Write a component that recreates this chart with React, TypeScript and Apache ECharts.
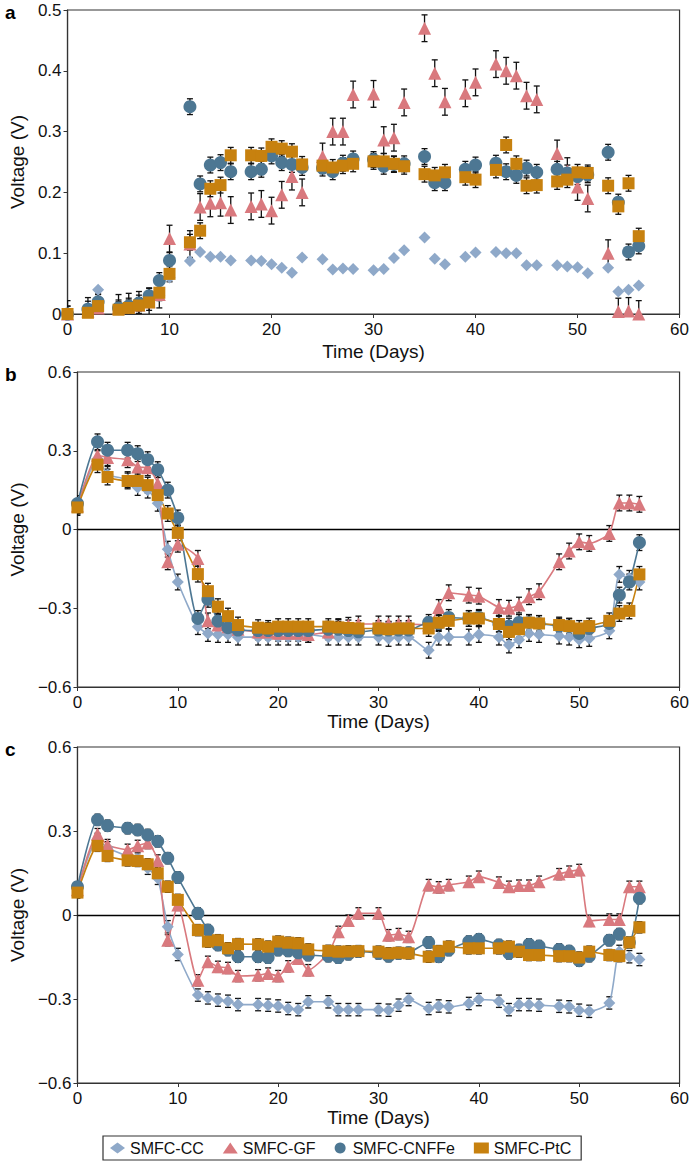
import React, { useEffect, useRef } from "react";
import * as echarts from "echarts";

// Sampling days (shared by every series)
const days = [0, 2, 3, 5, 6, 7, 8, 9, 10, 12, 13, 14, 15, 16, 18, 19, 20, 21, 22, 23, 25, 26, 27, 28, 30, 31, 32, 33, 35, 36, 37, 39, 40, 42, 43, 44, 45, 46, 48, 49, 50, 51, 53, 54, 55, 56];

const seriesNames = ["SMFC-CC", "SMFC-GF", "SMFC-CNFFe", "SMFC-PtC"];
const xTicks = [0, 10, 20, 30, 40, 50, 60];
const yTicksA = [0, 0.1, 0.2, 0.3, 0.4, 0.5];
const yTicksBC = [-0.6, -0.3, 0, 0.3, 0.6];

// Panel a
const aCC = [0, 0.01, 0.04, 0.008, 0.01, 0.015, 0.02, 0.03, 0.06, 0.087, 0.102, 0.094, 0.094, 0.088, 0.088, 0.087, 0.082, 0.076, 0.068, 0.093, 0.09, 0.073, 0.075, 0.074, 0.072, 0.074, 0.092, 0.105, 0.126, 0.091, 0.082, 0.094, 0.101, 0.102, 0.1, 0.1, 0.08, 0.08, 0.08, 0.078, 0.077, 0.067, 0.076, 0.037, 0.04, 0.047];
const aGF = [0, 0.005, 0.01, 0.01, 0.012, 0.015, 0.02, 0.032, 0.124, 0.115, 0.176, 0.182, 0.183, 0.171, 0.177, 0.181, 0.17, 0.196, 0.226, 0.2, 0.259, 0.3, 0.3, 0.361, 0.362, 0.286, 0.29, 0.348, 0.47, 0.396, 0.349, 0.363, 0.381, 0.411, 0.4, 0.392, 0.359, 0.353, 0.264, 0.235, 0.209, 0.19, 0.1, 0.004, 0.005, 0];
const aCNFFe = [0, 0.008, 0.02, 0.01, 0.013, 0.018, 0.03, 0.055, 0.088, 0.341, 0.214, 0.245, 0.249, 0.234, 0.234, 0.238, 0.26, 0.249, 0.246, 0.241, 0.24, 0.234, 0.248, 0.255, 0.254, 0.243, 0.246, 0.247, 0.259, 0.216, 0.216, 0.238, 0.245, 0.248, 0.234, 0.228, 0.24, 0.233, 0.238, 0.232, 0.226, 0.229, 0.266, 0.184, 0.102, 0.112];
const aPtC = [0, 0.002, 0.013, 0.007, 0.01, 0.014, 0.019, 0.035, 0.066, 0.118, 0.137, 0.206, 0.212, 0.261, 0.261, 0.26, 0.275, 0.272, 0.267, 0.246, 0.244, 0.241, 0.244, 0.247, 0.251, 0.251, 0.247, 0.243, 0.23, 0.228, 0.233, 0.225, 0.221, 0.237, 0.278, 0.247, 0.211, 0.212, 0.218, 0.221, 0.233, 0.232, 0.211, 0.177, 0.215, 0.128];

// Panel b
const bCC = [0.09, 0.27, 0.21, 0.19, 0.16, 0.15, 0.1, -0.075, -0.2, -0.37, -0.396, -0.4, -0.4, -0.41, -0.41, -0.41, -0.41, -0.41, -0.41, -0.4, -0.41, -0.41, -0.41, -0.41, -0.41, -0.415, -0.41, -0.41, -0.46, -0.41, -0.41, -0.41, -0.4, -0.41, -0.44, -0.42, -0.396, -0.4, -0.406, -0.41, -0.42, -0.415, -0.386, -0.171, -0.186, -0.2];
const bGF = [0.09, 0.283, 0.274, 0.266, 0.238, 0.235, 0.175, -0.123, -0.056, -0.11, -0.348, -0.364, -0.37, -0.38, -0.39, -0.39, -0.395, -0.395, -0.395, -0.4, -0.39, -0.37, -0.365, -0.36, -0.36, -0.36, -0.36, -0.36, -0.364, -0.297, -0.241, -0.25, -0.254, -0.297, -0.3, -0.288, -0.256, -0.237, -0.123, -0.082, -0.047, -0.053, -0.015, 0.101, 0.101, 0.096];
const bCNFFe = [0.099, 0.334, 0.302, 0.302, 0.289, 0.266, 0.228, 0.15, 0.044, -0.339, -0.266, -0.349, -0.374, -0.383, -0.385, -0.385, -0.385, -0.385, -0.385, -0.385, -0.38, -0.38, -0.385, -0.39, -0.383, -0.383, -0.383, -0.383, -0.354, -0.358, -0.335, -0.339, -0.335, -0.36, -0.368, -0.354, -0.354, -0.358, -0.368, -0.37, -0.396, -0.377, -0.358, -0.25, -0.2, -0.05];
const bPtC = [0.084, 0.247, 0.2, 0.185, 0.185, 0.169, 0.131, 0.061, -0.013, -0.17, -0.235, -0.294, -0.33, -0.364, -0.374, -0.377, -0.37, -0.37, -0.37, -0.37, -0.37, -0.373, -0.375, -0.377, -0.377, -0.38, -0.377, -0.377, -0.377, -0.355, -0.348, -0.339, -0.339, -0.36, -0.39, -0.38, -0.355, -0.358, -0.364, -0.368, -0.377, -0.368, -0.348, -0.32, -0.31, -0.171];

// Panel c
const cCC = [0.095, 0.27, 0.24, 0.21, 0.2, 0.167, 0.131, -0.042, -0.141, -0.286, -0.296, -0.304, -0.308, -0.32, -0.32, -0.322, -0.325, -0.334, -0.338, -0.31, -0.31, -0.338, -0.338, -0.338, -0.338, -0.34, -0.322, -0.302, -0.334, -0.325, -0.328, -0.316, -0.302, -0.308, -0.338, -0.32, -0.32, -0.322, -0.326, -0.328, -0.34, -0.344, -0.314, -0.13, -0.149, -0.159];
const cGF = [0.09, 0.289, 0.25, 0.233, 0.247, 0.257, 0.195, -0.09, 0.036, -0.233, -0.167, -0.185, -0.189, -0.218, -0.215, -0.209, -0.218, -0.183, -0.155, -0.197, -0.137, -0.06, -0.02, 0.006, 0.006, -0.072, -0.068, -0.078, 0.107, 0.099, 0.107, 0.119, 0.137, 0.116, 0.101, 0.105, 0.105, 0.119, 0.146, 0.155, 0.161, -0.021, -0.016, -0.016, 0.101, 0.101];
const cCNFFe = [0.101, 0.34, 0.319, 0.31, 0.304, 0.286, 0.263, 0.203, 0.134, 0.006, -0.054, -0.107, -0.125, -0.149, -0.149, -0.152, -0.125, -0.128, -0.135, -0.143, -0.147, -0.152, -0.14, -0.13, -0.137, -0.147, -0.137, -0.135, -0.098, -0.149, -0.125, -0.095, -0.087, -0.107, -0.137, -0.125, -0.105, -0.111, -0.123, -0.129, -0.163, -0.147, -0.09, -0.068, -0.098, 0.06];
const cPtC = [0.08, 0.247, 0.211, 0.195, 0.193, 0.181, 0.149, 0.101, 0.054, -0.054, -0.095, -0.09, -0.119, -0.104, -0.105, -0.113, -0.095, -0.099, -0.101, -0.123, -0.128, -0.131, -0.13, -0.129, -0.131, -0.137, -0.135, -0.137, -0.149, -0.129, -0.113, -0.119, -0.119, -0.119, -0.113, -0.131, -0.143, -0.143, -0.147, -0.147, -0.152, -0.131, -0.143, -0.147, -0.098, -0.044];

// Error (± V) per series and panel
const errA = [0.002, 0.022, 0.013, 0.013];
const errB = [0.03, 0.03, 0.03, 0.03];
const errC = [0.022, 0.02, 0.02, 0.02];

const COLORS = ["#8fa9c9", "#d9797e", "#4d7793", "#c7810f"];
const SYMBOLS = ["diamond", "triangle", "circle", "rect"];
const SIZES = [12, 13, 13, 12];
const FONT = "Liberation Sans, Arial, Helvetica, sans-serif";

const errRender = (params: any, api: any) => {
  const x = api.value(0);
  const y = api.value(1);
  const e = api.value(2);
  const top = api.coord([x, y + e]);
  const bot = api.coord([x, y - e]);
  const hw = 3;
  const style = { stroke: "#111", lineWidth: 1.3 };
  return {
    type: "group",
    children: [
      { type: "line", shape: { x1: top[0], y1: top[1], x2: bot[0], y2: bot[1] }, style },
      { type: "line", shape: { x1: top[0] - hw, y1: top[1], x2: top[0] + hw, y2: top[1] }, style },
      { type: "line", shape: { x1: bot[0] - hw, y1: bot[1], x2: bot[0] + hw, y2: bot[1] }, style },
    ],
  };
};

const fmtBC = (v: number) => (Math.abs(v) < 1e-9 ? "0" : (v < 0 ? "\u2212" : "") + Math.abs(v).toFixed(1));
const fmtA = (v: number) => (Math.abs(v) < 1e-9 ? "0" : v.toFixed(1));

export default function App() {
  const ref = useRef<HTMLDivElement>(null);
  useEffect(() => {
    if (!ref.current) return;
    const chart = echarts.init(ref.current, undefined, { renderer: "svg" });

    const panels = [
      { vals: [aCC, aGF, aCNFFe, aPtC], err: errA, line: false, ticks: yTicksA, interval: 0.1, fmt: fmtA, top: 10, height: 304, label: "a", nameGap: 28 },
      { vals: [bCC, bGF, bCNFFe, bPtC], err: errB, line: true, ticks: yTicksBC, interval: 0.3, fmt: fmtBC, top: 372, height: 315, label: "b", nameGap: 24 },
      { vals: [cCC, cGF, cCNFFe, cPtC], err: errC, line: true, ticks: yTicksBC, interval: 0.3, fmt: fmtBC, top: 747, height: 336, label: "c", nameGap: 24 },
    ];

    const grid: any[] = [];
    const xAxis: any[] = [];
    const yAxis: any[] = [];
    const series: any[] = [];
    const graphic: any[] = [];

    panels.forEach((p, gi) => {
      grid.push({ left: 63, top: p.top, width: 620, height: p.height, show: true, borderColor: "#333", borderWidth: 1.2, backgroundColor: "transparent" });
      xAxis.push({
        type: "value", gridIndex: gi, min: xTicks[0], max: xTicks[xTicks.length - 1], interval: 10,
        name: "Time (Days)", nameLocation: "middle", nameGap: p.nameGap,
        nameTextStyle: { fontSize: 19, color: "#111", fontFamily: FONT },
        axisLine: { onZero: false, lineStyle: { color: "#333", width: 1.2 } },
        axisTick: { show: true, inside: false, length: 4, lineStyle: { color: "#333" } },
        axisLabel: { fontSize: 17, color: "#111", fontFamily: FONT, margin: 7 },
        splitLine: { show: false },
      });
      yAxis.push({
        type: "value", gridIndex: gi, min: p.ticks[0], max: p.ticks[p.ticks.length - 1], interval: p.interval,
        name: "Voltage (V)", nameLocation: "middle", nameGap: 38,
        nameTextStyle: { fontSize: 19, color: "#111", fontFamily: FONT },
        axisLine: { onZero: false, lineStyle: { color: "#333", width: 1.2 } },
        axisTick: { show: true, inside: false, length: 4, lineStyle: { color: "#333" } },
        axisLabel: { fontSize: 17, color: "#111", fontFamily: FONT, margin: 6, formatter: p.fmt },
        splitLine: { show: false },
      });
      // error bars
      p.vals.forEach((vals, si) => {
        series.push({
          type: "custom", xAxisIndex: gi, yAxisIndex: gi, renderItem: errRender, clip: true,
          data: days.map((d, i) => [d, vals[i], p.err[si]]),
          encode: { x: 0, y: 1 }, silent: true, z: 1,
        });
      });
      // markers / lines
      p.vals.forEach((vals, si) => {
        const s: any = {
          name: seriesNames[si], type: p.line ? "line" : "scatter", xAxisIndex: gi, yAxisIndex: gi,
          data: days.map((d, i) => [d, vals[i]]),
          symbol: SYMBOLS[si], symbolSize: SIZES[si], clip: false, z: 2,
          itemStyle: { color: COLORS[si], opacity: 1 },
        };
        if (p.line) {
          s.showSymbol = true;
          s.smooth = 0.2;
          s.lineStyle = { color: COLORS[si], width: 1.6 };
        }
        if (p.line && si === 0) {
          s.markLine = {
            silent: true, symbol: ["none", "none"], label: { show: false },
            lineStyle: { color: "#000", type: "solid", width: 1.3 },
            data: [{ yAxis: 0 }], z: 1,
          };
        }
        series.push(s);
      });
      graphic.push({
        type: "text", left: 5, top: p.top - 7,
        style: { text: p.label, fontSize: 19, fontWeight: "bold", fill: "#000", fontFamily: FONT },
      });
    });

    chart.setOption({
      animation: false,
      backgroundColor: "#fff",
      grid, xAxis, yAxis, series, graphic,
      legend: {
        left: 103, top: 1136,
        data: seriesNames.map((n, i) => ({ name: n, icon: SYMBOLS[i], itemStyle: { color: COLORS[i] } })),
        selectedMode: false,
        itemWidth: 15, itemHeight: 11, itemGap: 19,
        padding: [4, 10, 4, 7],
        borderColor: "#333", borderWidth: 1.2, borderRadius: 0,
        textStyle: { fontSize: 16, color: "#111", fontFamily: FONT },
      },
    });
    return () => chart.dispose();
  }, []);
  return <div ref={ref} style={{ position: "absolute", left: 0, top: 0, width: 692, height: 1166 }} />;
}
